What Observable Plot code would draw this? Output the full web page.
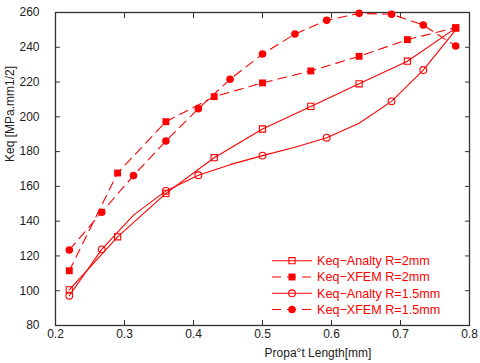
<!DOCTYPE html>
<html><head><meta charset="utf-8">
<script src="https://cdn.jsdelivr.net/npm/d3@7"></script>
<script src="https://cdn.jsdelivr.net/npm/@observablehq/plot@0.6"></script>
<style>body{margin:0;background:#fff}</style>
</head><body><div id="chart"></div>
<script>
// ---- data ----
const xSquare = [0.22, 0.29, 0.36, 0.43, 0.50, 0.57, 0.64, 0.71, 0.78];
const analtyR2 = [100.5, 131, 156, 176.5, 193, 206, 219, 232, 251];
const xfemR2 = [111.5, 167.7, 197.2, 211.6, 219.5, 226.4, 234.8, 244.4, 251.3];
const xCircle = [0.22, 0.267, 0.313, 0.36, 0.407, 0.453, 0.50, 0.547, 0.593, 0.64, 0.687, 0.733, 0.78];
const analtyR15 = [97.1, 123.8, 143.5, 157.4, 166.4, 172.5, 177.7, 182.5, 188, 196.3, 208.9, 226.9, 250];
const analtyR15Marked = [1, 1, 0, 1, 1, 0, 1, 0, 1, 0, 1, 1, 0];
const xfemR15 = [123.4, 145.1, 166.2, 186.1, 204.7, 221.6, 236.1, 247.6, 255.5, 259.5, 259, 252.8, 240.7];
const xTicks = [0.2, 0.3, 0.4, 0.5, 0.6, 0.7, 0.8];
const yTicks = [80, 100, 120, 140, 160, 180, 200, 220, 240, 260];
const seriesNames = ["Keq\u2212Analty R=2mm", "Keq\u2212XFEM R=2mm", "Keq\u2212Analty R=1.5mm", "Keq\u2212XFEM R=1.5mm"];
const xLabel = "Propa\u00b0t Length[mm]";
const yLabel = "Keq [MPa.mm1/2]";

const red = "#ff0000";
const dash = "9,6";
const sq = xSquare.map((x, i) => ({x, analty: analtyR2[i], xfem: xfemR2[i]}));
const ci = xCircle.map((x, i) => ({x, analty: analtyR15[i], xfem: xfemR15[i], marked: analtyR15Marked[i]}));

const chart = Plot.plot({
  width: 480, height: 363,
  marginLeft: 55, marginRight: 11, marginTop: 12, marginBottom: 38,
  style: {fontFamily: "'Liberation Sans', Arial, sans-serif", fontSize: "12px", color: "#222", background: "white"},
  x: {domain: [0.2, 0.8]},
  y: {domain: [80, 260]},
  marks: [
    Plot.axisX(xTicks, {anchor: "bottom", tickSize: 0, tickPadding: 4, tickFormat: d => d.toFixed(1), label: null}),
    Plot.axisX(xTicks, {anchor: "bottom", tickSize: -5, tickFormat: () => "", label: null, stroke: "#333"}),
    Plot.axisX(xTicks, {anchor: "top", tickSize: -5, tickFormat: () => "", label: null, stroke: "#333"}),
    Plot.axisY(yTicks, {anchor: "left", tickSize: 0, tickPadding: 16, label: null}),
    Plot.axisY(yTicks, {anchor: "left", tickSize: -5, tickFormat: () => "", label: null, stroke: "#333"}),
    Plot.axisY(yTicks, {anchor: "right", tickSize: -5, tickFormat: () => "", label: null, stroke: "#333"}),
    Plot.frame({stroke: "#333", strokeWidth: 1.3}),
    Plot.line(sq, {x: "x", y: "analty", stroke: red, strokeWidth: 1.1}),
    Plot.dot(sq, {x: "x", y: "analty", symbol: "square", r: 3.5, stroke: red, fill: "none", strokeWidth: 1.1}),
    Plot.line(sq, {x: "x", y: "xfem", stroke: red, strokeWidth: 1.1, strokeDasharray: dash}),
    Plot.dot(sq, {x: "x", y: "xfem", symbol: "square", r: 3.9, fill: red}),
    Plot.line(ci, {x: "x", y: "analty", stroke: red, strokeWidth: 1.1}),
    Plot.dot(ci.filter(d => d.marked), {x: "x", y: "analty", r: 3.4, stroke: red, fill: "none", strokeWidth: 1.1}),
    Plot.line(ci, {x: "x", y: "xfem", stroke: red, strokeWidth: 1.1, strokeDasharray: dash}),
    Plot.dot(ci, {x: "x", y: "xfem", r: 3.8, fill: red})
  ]
});
document.getElementById("chart").append(chart);

// axis titles and legend
const svg = d3.select(chart);
svg.append("text").attr("transform", "translate(14,114) rotate(-90)")
  .attr("text-anchor", "middle").attr("fill", "#222").attr("font-size", 12)
  .text(yLabel);
svg.append("text").attr("x", 318).attr("y", 357)
  .attr("text-anchor", "middle").attr("fill", "#222").attr("font-size", 12)
  .text(xLabel);

const lg = svg.append("g").attr("text-anchor", "start");
const rowY = [260.7, 277, 293.3, 309.5];
const styles = [
  {dash: null, sym: d3.symbolSquare, fill: "none", size: 38},
  {dash: dash, sym: d3.symbolSquare, fill: red, size: 48},
  {dash: null, sym: d3.symbolCircle, fill: "none", size: 36},
  {dash: dash, sym: d3.symbolCircle, fill: red, size: 45}
];
seriesNames.forEach((name, i) => {
  const y = rowY[i], s = styles[i];
  lg.append("line").attr("x1", 272).attr("x2", 312).attr("y1", y).attr("y2", y)
    .attr("stroke", red).attr("stroke-width", 1.1).attr("stroke-dasharray", s.dash);
  lg.append("path").attr("d", d3.symbol(s.sym, s.size)()).attr("transform", `translate(292,${y})`)
    .attr("fill", s.fill).attr("stroke", s.fill === "none" ? red : "none").attr("stroke-width", 1.1);
  lg.append("text").attr("x", 317).attr("y", y).attr("dy", "0.35em").attr("text-anchor", "start")
    .attr("fill", red).attr("font-size", 12.6).text(name);
});
</script>
</body></html>
